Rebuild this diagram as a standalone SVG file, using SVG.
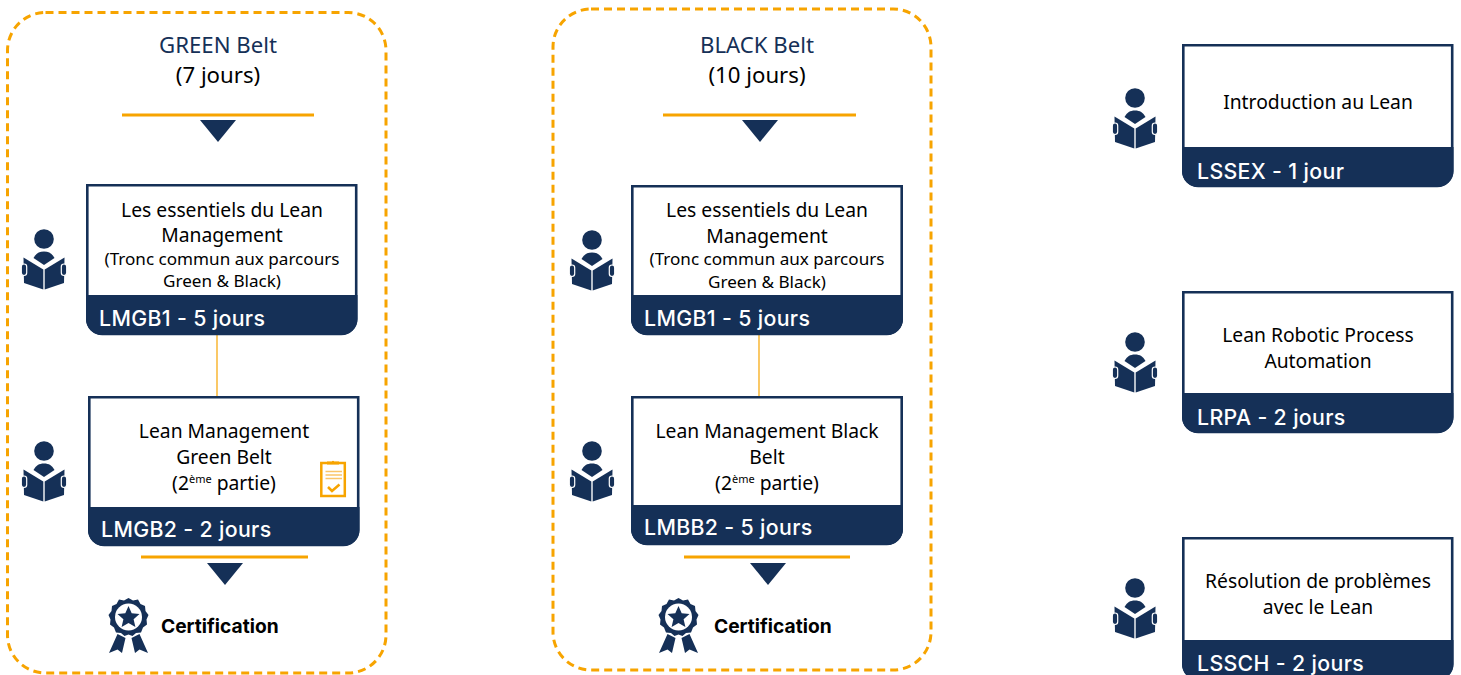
<svg xmlns="http://www.w3.org/2000/svg" width="1461" height="675" viewBox="0 0 1461 675">
<style>
.bg{fill:#fff}
.frame{fill:none;stroke:#f7a400;stroke-width:3;stroke-dasharray:8 5}
.rule{stroke:#f7a400;stroke-width:3;fill:none}
.link{stroke:#f7a400;stroke-width:1.2;fill:none}
.navy{fill:#153057}
.hand{fill:#153057;stroke:#fff;stroke-width:1.200}
.card{fill:#fff;stroke:#153057;stroke-width:2.600}
text{font-family:"Noto Sans","Open Sans","Liberation Sans",sans-serif;fill:#000;text-anchor:middle}
.t{font-size:19.300px}
.title{font-size:22.200px}
.blue{fill:#153057}
.s{font-size:17.100px}
.f{font-family:Inter,"Noto Sans",sans-serif;font-size:21.300px;font-weight:500;fill:#fff;text-anchor:start;letter-spacing:.35px}
.c{font-family:Inter,"Noto Sans",sans-serif;font-size:19.200px;font-weight:700;text-anchor:start}
.sup{font-size:11px}
</style>
<defs>
<symbol id="reader" overflow="visible" viewBox="0 0 1461 675" width="1461" height="675">
<circle class="navy" cx="44" cy="239" r="9.800"/>
<path class="navy" d="M33.500 258C36 253.500 39 251.500 44 251.500S52 253.500 54.500 258L44 265Z"/>
<path class="navy" d="M23.500 257.500L43.300 269.500V289.500L24 283Z"/>
<path class="navy" d="M64.500 257.500L44.700 269.500V289.500L64 283Z"/>
<rect class="hand" x="21.300" y="264" width="5.400" height="11.500" rx="2.700"/>
<rect class="hand" x="61.300" y="264" width="5.400" height="11.500" rx="2.700"/>
</symbol>
<symbol id="award" overflow="visible" viewBox="0 0 1461 675" width="1461" height="675">
<path class="navy" d="M128.500 598l4.500 2.500 5-1 2.500 4.500 4.500 2 .5 5 3 4-2 4.500 .5 5-4 3-2 5-5 .5-3.500 3-4-1.500-4 1.500-3.500-3-5-.5-2-5-4-3 .5-5-2-4.500 3-4 .5-5 4.500-2 2.500-4.500 5 1z"/>
<circle cx="128.500" cy="617" r="13.500" fill="#fff"/>
<path class="navy" d="M128.500 606l3.200 7.300 7.800.7-5.900 5.200 1.800 7.800-6.900-4.100-6.900 4.100 1.800-7.800-5.900-5.200 7.800-.7z"/>
<path class="navy" d="M117.500 634l8 4-3.500 15-4.500-3.500-8.500 3.500z"/>
<path class="navy" d="M139.500 634l-8 4 3.500 15 4.500-3.500 8.500 3.500z"/>
</symbol>
<symbol id="arrow" overflow="visible" viewBox="0 0 1461 675" width="1461" height="675">
<path class="navy" d="M0 0H36L18 22Z"/>
</symbol>
</defs>
<rect class="bg" width="1461" height="675"/>

<g id="connectors">
<path class="link" d="M217 335V396"/>
<path class="link" d="M759 335V396"/>
<path class="rule" d="M122 115H314"/>
<path class="rule" d="M663 115H856"/>
<path class="rule" d="M141 557H308"/>
<path class="rule" d="M684 557H850"/>
<use href="#arrow" x="200" y="120"/>
<use href="#arrow" x="742" y="120"/>
<use href="#arrow" x="207" y="563"/>
<use href="#arrow" x="750" y="563"/>
</g>

<g id="green-frame">
<rect class="frame" x="7.500" y="12.500" width="378.500" height="660.500" rx="38"/>
<text class="title blue" x="218" y="53">GREEN Belt</text>
<text class="title" x="218" y="83">(7 jours)</text>
</g>
<g id="black-frame">
<rect class="frame" x="553" y="9" width="378" height="661" rx="38"/>
<text class="title blue" x="757" y="53">BLACK Belt</text>
<text class="title" x="757" y="83">(10 jours)</text>
</g>

<g id="green-lmgb1">
<use href="#reader"/>
<path class="card" d="M87.300 185.300H356.200V319a15 15 0 0 1-15 15H102.300a15 15 0 0 1-15-15Z"/>
<path class="navy" d="M86 295H357.500V319a16 16 0 0 1-16 16H102a16 16 0 0 1-16-16Z"/>
<text class="t" x="222" y="217">Les essentiels du Lean</text>
<text class="t" x="222" y="242">Management</text>
<text class="s" x="222" y="265">(Tronc commun aux parcours</text>
<text class="s" x="222" y="287">Green &amp; Black)</text>
<text class="f" x="99" y="326">LMGB1 - 5 jours</text>
</g>
<g id="green-lmgb2">
<use href="#reader" y="212"/>
<path class="card" d="M89.300 397.300H358.200V530a15 15 0 0 1-15 15H104.300a15 15 0 0 1-15-15Z"/>
<path class="navy" d="M88 507H359.500V530a16 16 0 0 1-16 16H104a16 16 0 0 1-16-16Z"/>
<text class="t" x="224" y="438">Lean Management</text>
<text class="t" x="224" y="464">Green Belt</text>
<text class="t" x="224" y="490">(2<tspan class="sup" dy="-7">ème</tspan><tspan dy="7"> partie)</tspan></text>
<text class="f" x="101" y="537">LMGB2 - 2 jours</text>
<g id="clipboard">
<rect x="321.300" y="463" width="23.500" height="33" fill="none" stroke="#f7a400" stroke-width="2.500"/>
<path d="M327 464v-2h4.500a2 2 0 0 1 3 0H339v2z" fill="#f7a400" stroke="#f7a400"/>
<path d="M325.500 471.500H342M325.500 475H342M325.500 478.500H342" stroke="#fac56a" stroke-width="1.300"/>
<path d="M328 487l4 4 7.500-6.500" fill="none" stroke="#f7a400" stroke-width="2.500"/>
</g>
</g>
<g id="green-certification">
<use href="#award"/>
<text class="c" x="161" y="633">Certification</text>
</g>

<g id="black-lmgb1">
<use href="#reader" x="548" y="1"/>
<path class="card" d="M632.300 186.300H901.700V319a15 15 0 0 1-15 15H647.300a15 15 0 0 1-15-15Z"/>
<path class="navy" d="M631 295H903V319a16 16 0 0 1-16 16H647a16 16 0 0 1-16-16Z"/>
<text class="t" x="767" y="217">Les essentiels du Lean</text>
<text class="t" x="767" y="243">Management</text>
<text class="s" x="767" y="265">(Tronc commun aux parcours</text>
<text class="s" x="767" y="288">Green &amp; Black)</text>
<text class="f" x="644" y="326">LMGB1 - 5 jours</text>
</g>
<g id="black-lmbb2">
<use href="#reader" x="548" y="212"/>
<path class="card" d="M632.300 397.300H901.700V529a15 15 0 0 1-15 15H647.300a15 15 0 0 1-15-15Z"/>
<path class="navy" d="M631 505H903V529a16 16 0 0 1-16 16H647a16 16 0 0 1-16-16Z"/>
<text class="t" x="767" y="438">Lean Management Black</text>
<text class="t" x="767" y="464">Belt</text>
<text class="t" x="767" y="490">(2<tspan class="sup" dy="-7">ème</tspan><tspan dy="7"> partie)</tspan></text>
<text class="f" x="644" y="535">LMBB2 - 5 jours</text>
</g>
<g id="black-certification">
<use href="#award" x="550"/>
<text class="c" x="714" y="633">Certification</text>
</g>

<g id="lssex">
<use href="#reader" x="1091" y="-141"/>
<path class="card" d="M1183.300 45.300H1452.200V171a15 15 0 0 1-15 15H1198.300a15 15 0 0 1-15-15Z"/>
<path class="navy" d="M1182 147H1453.500V171a16 16 0 0 1-16 16H1198a16 16 0 0 1-16-16Z"/>
<text class="t" x="1318" y="109">Introduction au Lean</text>
<text class="f" x="1197" y="179">LSSEX - 1 jour</text>
</g>
<g id="lrpa">
<use href="#reader" x="1091" y="103"/>
<path class="card" d="M1183.300 292.300H1452.200V417a15 15 0 0 1-15 15H1198.300a15 15 0 0 1-15-15Z"/>
<path class="navy" d="M1182 393H1453.500V417a16 16 0 0 1-16 16H1198a16 16 0 0 1-16-16Z"/>
<text class="t" x="1318" y="342">Lean Robotic Process</text>
<text class="t" x="1318" y="368">Automation</text>
<text class="f" x="1197" y="425">LRPA - 2 jours</text>
</g>
<g id="lssch">
<use href="#reader" x="1091" y="349"/>
<path class="card" d="M1183.300 538.300H1452.200V664a15 15 0 0 1-15 15H1198.300a15 15 0 0 1-15-15Z"/>
<path class="navy" d="M1182 640H1453.500V664a16 16 0 0 1-16 16H1198a16 16 0 0 1-16-16Z"/>
<text class="t" x="1318" y="588">Résolution de problèmes</text>
<text class="t" x="1318" y="614">avec le Lean</text>
<text class="f" x="1197" y="671">LSSCH - 2 jours</text>
</g>
</svg>
